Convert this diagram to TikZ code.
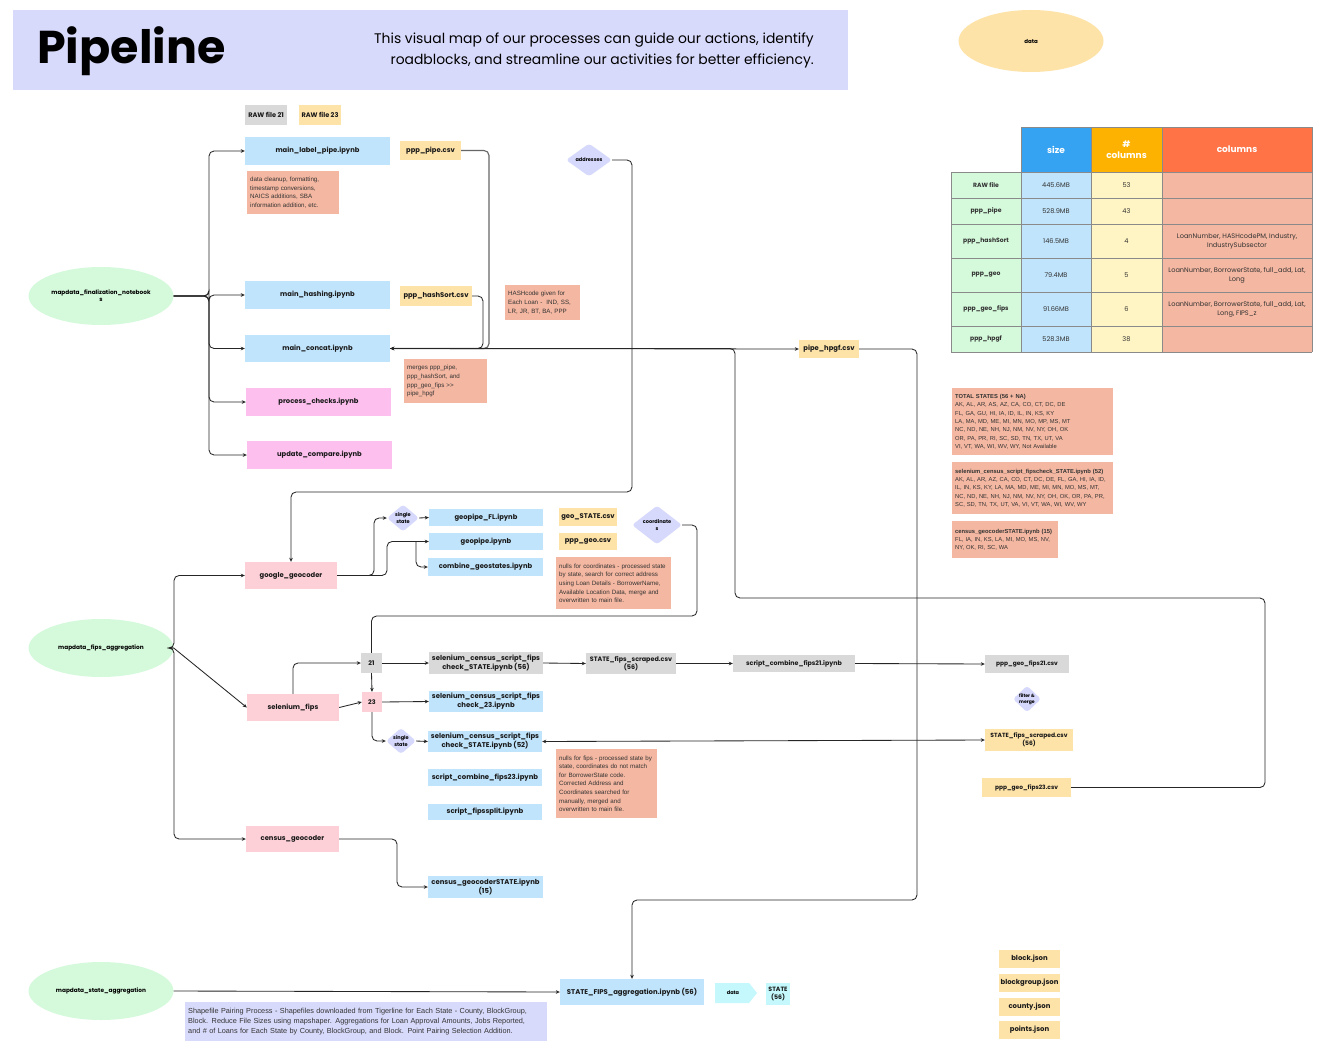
\documentclass[tikz,border=0pt]{standalone}
\usepackage{fontspec}
\setmainfont{Poppins}
\newfontfamily\notefont{Liberation Sans}
\usetikzlibrary{shapes.geometric,arrows.meta}
\definecolor{hdr}{HTML}{D8DAFB}
\definecolor{blueb}{HTML}{C0E4FC}
\definecolor{pinkb}{HTML}{FCBFEE}
\definecolor{rosep}{HTML}{FDD0D7}
\definecolor{orangeb}{HTML}{FEE3A9}
\definecolor{grayb}{HTML}{D9D9D9}
\definecolor{salmon}{HTML}{F4B7A1}
\definecolor{greene}{HTML}{D5FADB}
\definecolor{lav}{HTML}{D6D9FC}
\definecolor{cyanb}{HTML}{C4F8FC}
\definecolor{thB}{HTML}{36A3F2}
\definecolor{thO}{HTML}{FDB201}
\definecolor{thR}{HTML}{FF7346}
\definecolor{yel}{HTML}{FFF5C4}
\definecolor{grid}{HTML}{8A8A8A}
\tikzset{
  box/.style={rectangle, inner sep=1pt, align=center, text=black!90,
    font=\bfseries\fontsize{6.8}{8}\selectfont},
  sbox/.style={box, font=\bfseries\fontsize{6.9}{8.8}\selectfont},
  tbox/.style={box, font=\fontsize{6}{8}\selectfont},
  notebox/.style={rectangle, fill=salmon, inner sep=3pt, align=left, anchor=north west,
    text=black!80, font=\notefont\fontsize{6.2}{8.6}\selectfont},
  dia/.style={diamond, fill=lav, inner sep=0pt, rounded corners=3pt, align=center,
    font=\bfseries\fontsize{5}{6.5}\selectfont},
  ell/.style={ellipse, fill=greene, inner sep=0pt, minimum width=145, minimum height=58,
    align=center, font=\bfseries\fontsize{5.8}{7}\selectfont},
  arr/.style={-{Stealth[length=4pt,width=3.6pt]}, line width=0.85pt, draw=black!85, rounded corners=5pt},
  ln/.style={line width=0.85pt, draw=black!85, rounded corners=5pt},
  cell/.style={inner sep=0pt, align=center, font=\fontsize{6.6}{9}\selectfont, text=black!80},
  rowlab/.style={cell, font=\bfseries\fontsize{6.1}{8}\selectfont},
  thead/.style={cell, text=white, font=\bfseries\fontsize{9}{11}\selectfont},
}
\begin{document}
\begin{tikzpicture}[x=1pt,y=-1pt]
\useasboundingbox (0,0) rectangle (1329,1059);
\fill[white] (0,0) rectangle (1329,1059);
% header
\fill[hdr] (13,10) rectangle (848,90);
\node[anchor=west, inner sep=0, font=\bfseries\fontsize{46}{55}\selectfont] (title) at (37,51) {Pipeline};
\node[anchor=east, inner sep=0, align=right, font=\fontsize{13.9}{21}\selectfont] (desc) at (814,50)
  {This visual map of our processes can guide our actions, identify\\roadblocks, and streamline our activities for better efficiency.};
\node[ellipse, fill=orangeb, minimum width=145, minimum height=62, inner sep=0, font=\bfseries\fontsize{5.5}{7}\selectfont] (dataell) at (1031,41) {data};

% legend
\node[box, fill=grayb, minimum width=42, minimum height=20, font=\bfseries\fontsize{6.6}{7}\selectfont] (raw21) at (266,115) {RAW file 21};
\node[box, fill=orangeb, minimum width=42, minimum height=20, font=\bfseries\fontsize{6.6}{7}\selectfont] (raw23) at (320,115) {RAW file 23};

% main column
\node[box, fill=blueb, minimum width=145, minimum height=28] (mlp) at (317.5,151) {main\_label\_pipe.ipynb};
\node[box, fill=blueb, minimum width=145, minimum height=28] (mhash) at (317.5,295) {main\_hashing.ipynb};
\node[box, fill=blueb, minimum width=145, minimum height=27] (mcat) at (317.5,348.5) {main\_concat.ipynb};
\node[box, fill=pinkb, minimum width=145, minimum height=28] (pchk) at (318.5,402) {process\_checks.ipynb};
\node[box, fill=pinkb, minimum width=145, minimum height=28] (upd) at (319.5,455) {update\_compare.ipynb};
\node[notebox, text width=86, minimum height=43] (note1) at (247,171)
  {data cleanup, formatting,\\timestamp conversions,\\NAICS additions, SBA\\information addition, etc.};
\node[box, fill=orangeb, minimum width=61, minimum height=19] (ppppipe) at (430.5,150.5) {ppp\_pipe.csv};
\node[box, fill=orangeb, minimum width=72, minimum height=20] (hashsort) at (436,296) {ppp\_hashSort.csv};
\node[notebox, text width=69, minimum height=35] (hashnote) at (505,285)
  {HASHcode given for\\Each Loan -\ \ IND, SS,\\LR, JR, BT, BA, PPP};
\node[notebox, text width=77, minimum height=44] (mergenote) at (404,359)
  {merges ppp\_pipe,\\ppp\_hashSort, and\\ppp\_geo\_fips >>\\pipe\_hpgf};
\node[dia, minimum width=46, minimum height=33] (addr) at (589,160) {addresses};
\node[box, fill=orangeb, minimum width=60, minimum height=18] (hpgf) at (829,349) {pipe\_hpgf.csv};

% ellipses
\node[ell] (fin) at (101,296) {mapdata\_finalization\_notebook\\s};
\node[ell] (fips) at (101,648) {mapdata\_fips\_aggregation};
\node[ell] (state) at (101,991) {mapdata\_state\_aggregation};

% geocoder section
\node[box, fill=rosep, minimum width=92, minimum height=27] (gg) at (291,575.5) {google\_geocoder};
\node[box, fill=rosep, minimum width=92, minimum height=27] (selfips) at (293,707.5) {selenium\_fips};
\node[box, fill=rosep, minimum width=93, minimum height=26] (census) at (292.5,839) {census\_geocoder};
\node[dia, minimum width=32, minimum height=27] (ss1) at (403,518) {single\\state};
\node[box, fill=blueb, minimum width=114, minimum height=17] (gfl) at (486,517.5) {geopipe\_FL.ipynb};
\node[box, fill=blueb, minimum width=114, minimum height=17] (gp) at (486,541.5) {geopipe.ipynb};
\node[box, fill=blueb, minimum width=115, minimum height=18] (cg) at (485.5,567) {combine\_geostates.ipynb};
\node[box, fill=orangeb, minimum width=58, minimum height=18] (geostate) at (588,517) {geo\_STATE.csv};
\node[box, fill=orangeb, minimum width=58, minimum height=17] (pppgeo) at (588,541.5) {ppp\_geo.csv};
\node[dia, minimum width=50, minimum height=38] (coord) at (657,525) {coordinate\\s};
\node[notebox, text width=109, minimum height=52] (nullcoord) at (556,557)
  {nulls for coordinates - processed state\\by state, search for correct address\\using Loan Details - BorrowerName,\\Available Location Data, merge and\\overwritten to main file.};

% fips section
\node[box, fill=grayb, minimum width=21, minimum height=20, font=\bfseries\fontsize{6.4}{7}\selectfont] (b21) at (371.5,663) {21};
\node[box, fill=rosep, minimum width=20, minimum height=20, font=\bfseries\fontsize{6.4}{7}\selectfont] (b23) at (372,702) {23};
\node[sbox, fill=grayb, minimum width=114, minimum height=22] (sc56) at (486,663) {selenium\_census\_script\_fips\\check\_STATE.ipynb (56)};
\node[sbox, fill=blueb, minimum width=114, minimum height=21] (sc23) at (486,701.5) {selenium\_census\_script\_fips\\check\_23.ipynb};
\node[dia, minimum width=30, minimum height=24] (ss2) at (401,741) {single\\state};
\node[sbox, fill=blueb, minimum width=114, minimum height=21] (sc52) at (485,741.5) {selenium\_census\_script\_fips\\check\_STATE.ipynb (52)};
\node[sbox, fill=blueb, minimum width=114, minimum height=17] (cf23) at (485,777.5) {script\_combine\_fips23.ipynb};
\node[sbox, fill=blueb, minimum width=114, minimum height=16] (fsplit) at (485,812) {script\_fipssplit.ipynb};
\node[notebox, text width=95, minimum height=69] (nullfips) at (556,749)
  {nulls for fips - processed state by\\state, coordinates do not match\\for BorrowerState code.\\Corrected Address and\\Coordinates searched for\\manually, merged and\\overwritten to main file.};
\node[sbox, fill=grayb, minimum width=90, minimum height=21, font=\bfseries\fontsize{6.4}{8.4}\selectfont] (scr56g) at (631,663.5) {STATE\_fips\_scraped.csv\\(56)};
\node[tbox, fill=grayb, minimum width=122, minimum height=17, font=\bfseries\fontsize{6.3}{7}\selectfont] (cf21) at (794,663.5) {script\_combine\_fips21.ipynb};
\node[tbox, fill=grayb, minimum width=84, minimum height=18, font=\bfseries\fontsize{5.9}{7}\selectfont] (f21) at (1027,664) {ppp\_geo\_fips21.csv};
\node[dia, minimum width=28, minimum height=22, font=\bfseries\fontsize{4.6}{6}\selectfont] (fm) at (1027,699) {filter \&\\merge};
\node[sbox, fill=orangeb, minimum width=88, minimum height=22, font=\bfseries\fontsize{6}{8}\selectfont] (scr56o) at (1029,740) {STATE\_fips\_scraped.csv\\(56)};
\node[tbox, fill=orangeb, minimum width=89, minimum height=19, font=\bfseries\fontsize{5.9}{7}\selectfont] (f23) at (1026.5,787.5) {ppp\_geo\_fips23.csv};
\node[sbox, fill=blueb, minimum width=115, minimum height=22] (cgs) at (485.5,887) {census\_geocoderSTATE.ipynb\\(15)};

% aggregation section
\node[sbox, fill=blueb, minimum width=144, minimum height=26] (agg) at (632,992) {STATE\_FIPS\_aggregation.ipynb (56)};
\fill[cyanb] (715,983) -- (749,983) -- (757,993) -- (749,1003) -- (715,1003) -- cycle;
\node[inner sep=0, font=\bfseries\fontsize{5}{6}\selectfont] (datan) at (733,993) {data};
\node[sbox, fill=cyanb, minimum width=24, minimum height=22, font=\bfseries\fontsize{6.2}{8.4}\selectfont] (st56) at (778,994) {STATE\\(56)};
\node[rectangle, fill=hdr, inner sep=3pt, anchor=north west, align=left, text width=356, minimum height=39,
  text=black!80, font=\notefont\fontsize{7.3}{10.3}\selectfont] (shapenote) at (185,1002)
  {Shapefile Pairing Process - Shapefiles downloaded from Tigerline for Each State - County, BlockGroup,\\Block. Reduce File Sizes using mapshaper. Aggregations for Loan Approval Amounts, Jobs Reported,\\and \# of Loans for Each State by County, BlockGroup, and Block. Point Pairing Selection Addition.};

% json
\node[sbox, fill=orangeb, minimum width=61, minimum height=18] (jblock) at (1029.5,959) {block.json};
\node[sbox, fill=orangeb, minimum width=61, minimum height=18] (jbg) at (1029.5,982.5) {blockgroup.json};
\node[sbox, fill=orangeb, minimum width=61, minimum height=18] (jcounty) at (1029.5,1006.5) {county.json};
\node[sbox, fill=orangeb, minimum width=61, minimum height=18] (jpoints) at (1029.5,1029.5) {points.json};

% right notes
\node[notebox, text width=155, minimum height=67, font=\notefont\fontsize{5.8}{8.4}\selectfont] (tot) at (952,388)
  {\textbf{TOTAL STATES (56 + NA)}\\AK, AL, AR, AS, AZ, CA, CO, CT, DC, DE\\FL, GA, GU, HI, IA, ID, IL, IN, KS, KY\\LA, MA, MD, ME, MI, MN, MO, MP, MS, MT\\NC, ND, NE, NH, NJ, NM, NV, NY, OH, OK\\OR, PA, PR, RI, SC, SD, TN, TX, UT, VA\\VI, VT, WA, WI, WV, WY, Not Available};
\node[notebox, text width=155, minimum height=52, font=\notefont\fontsize{5.8}{8.4}\selectfont] (selnote) at (952,462)
  {\textbf{selenium\_census\_script\_fipscheck\_STATE.ipynb (52)}\\AK, AL, AR, AZ, CA, CO, CT, DC, DE, FL, GA, HI, IA, ID,\\IL, IN, KS, KY, LA, MA, MD, ME, MI, MN, MO, MS, MT,\\NC, ND, NE, NH, NJ, NM, NV, NY, OH, OK, OR, PA, PR,\\SC, SD, TN, TX, UT, VA, VI, VT, WA, WI, WV, WY};
\node[notebox, text width=100, minimum height=37, font=\notefont\fontsize{5.8}{8.4}\selectfont] (cennote) at (952,521)
  {\textbf{census\_geocoderSTATE.ipynb (15)}\\FL, IA, IN, KS, LA, MI, MO, MS, NV,\\NY, OK, RI, SC, WA};

% table
\fill[thB] (1021,127) rectangle (1091,172);
\fill[thO] (1091,127) rectangle (1162,172);
\fill[thR] (1162,127) rectangle (1312,172);
\fill[greene] (951,172) rectangle (1021,352);
\fill[blueb] (1021,172) rectangle (1091,352);
\fill[yel] (1091,172) rectangle (1162,352);
\fill[salmon] (1162,172) rectangle (1312,352);
\begin{scope}[draw=grid, line width=0.7pt]
\draw (1021,127) -- (1312,127);
\foreach \yy in {172,198,224,258,292,326,352} \draw (951,\yy) -- (1312,\yy);
\draw (951,172) -- (951,352);
\foreach \xx in {1021,1091,1162,1312} \draw (\xx,127) -- (\xx,352);
\end{scope}
\node[thead] (thsize) at (1056,149.5) {size};
\node[thead] (thnum) at (1126.5,149.5) {\#\\columns};
\node[thead] (thcol) at (1237,149.5) {columns};
\foreach \yy/\lab/\sz/\num/\cols [count=\i] in {
  185/RAW file/445.6MB/53/{},
  211/ppp\_pipe/528.9MB/43/{},
  241/ppp\_hashSort/146.5MB/4/{LoanNumber, HASHcodePM, Industry,\\IndustrySubsector},
  275/ppp\_geo/79.4MB/5/{LoanNumber, BorrowerState, full\_add, Lat,\\Long},
  309/ppp\_geo\_fips/91.66MB/6/{LoanNumber, BorrowerState, full\_add, Lat,\\Long, FIPS\_z},
  339/ppp\_hpgf/528.3MB/38/{}} {
  \node[rowlab] (rl\i) at (986,\yy) {\lab};
  \node[cell] (rs\i) at (1056,\yy) {\sz};
  \node[cell] (rn\i) at (1126.5,\yy) {\num};
  \node[cell] (rc\i) at (1237,\yy) {\cols};
}

% connectors: finalization
\draw[arr] (fin.east) -- (209,296) |- (mlp.west);
\draw[arr] (fin.east) -- (209,296) |- (mhash.west);
\draw[arr] (fin.east) -- (209,296) |- (mcat.west);
\draw[arr] (fin.east) -- (209,296) |- (pchk.west);
\draw[arr] (fin.east) -- (209,296) |- (upd.west);
\draw[arr, draw=black!60, line width=1.1pt] (ppppipe.east) -- (489,150.5) |- (mcat.east);
\draw[arr] (hashsort.east) -- (483,296) |- (mcat.east);
\draw[arr] (mcat.east) -- (hpgf.west);
\draw[arr] (f23.east) -- (1265,787.5) -- (1265,598) -- (735,598) -- (735,348.5) -- (mcat.east);
\draw[arr] (hpgf.east) -- (917,349) -- (917,900) -- (632,900) -- (agg.north);
\draw[arr] (addr.east) -- (632,160) -- (632,492) -- (291,492) -- (gg.north);

% connectors: fips aggregation
\draw[arr] (fips.east) -- (174,648) |- (gg.west);
\draw[arr] (fips.east) -- (174,648) |- (census.west);
\draw[arr, rounded corners=0pt] (fips.east) -- (selfips.west);
\coordinate (gj) at (416,541.5);
\draw[arr] (gg.east) -- (374,575.5) |- (ss1.west);
\draw[arr] (gg.east) -- (387,575.5) |- (gj) -- (gp.west);
\draw[arr] (gj) |- (cg.west);
\draw[arr] (ss1.east) -- (gfl.west);
\draw[ln] (coord.east) -- (697,525) -- (697,616) -- (371.5,616) -- (b21.north);
\draw[arr] (b21.south) -- (b23.north);
\draw[arr] (selfips.north) |- (b21.west);
\draw[arr] (selfips.east) -- (b23.west);
\draw[arr] (b21.east) -- (sc56.west);
\draw[arr] (b23.east) -- (sc23.west);
\draw[arr] (b23.south) |- (ss2.west);
\draw[arr] (ss2.east) -- (sc52.west);
\draw[arr] (sc56.east) -- (scr56g.west);
\draw[arr] (scr56g.east) -- (cf21.west);
\draw[arr] (cf21.east) -- (f21.west);
\draw[{Stealth[length=4pt,width=3.6pt]}-{Stealth[length=4pt,width=3.6pt]}, line width=0.85pt, draw=black!85] (sc52.east) -- (scr56o.west);
\draw[arr] (census.east) -- (397,839) |- (cgs.west);

% state aggregation
\draw[arr] (state.east) -- (agg.west);
\end{tikzpicture}
\end{document}
